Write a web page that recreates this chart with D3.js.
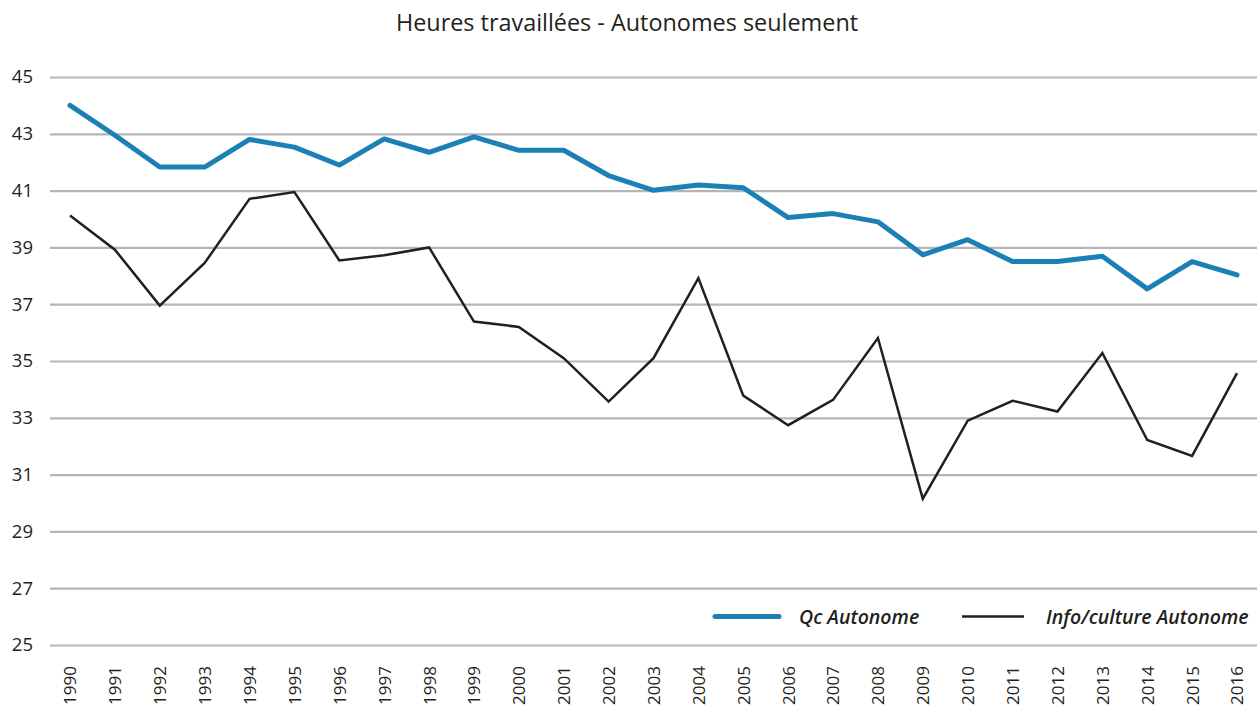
<!DOCTYPE html>
<html>
<head>
<meta charset="utf-8">
<script src="https://cdn.jsdelivr.net/npm/d3@7"></script>
<style>
  body { margin: 0; background: #fff; }
  text { font-family: "Open Sans", "Noto Sans", sans-serif; fill: #231f20; }
</style>
</head>
<body>
<div id="chart"></div>
<script>
const years = d3.range(1990, 2017);
const qcAutonome = [44.0, 42.95, 41.83, 41.83, 42.8, 42.53, 41.9, 42.82, 42.35, 42.89,
  42.42, 42.42, 41.53, 41.01, 41.2, 41.1, 40.05, 40.19, 39.9, 38.74,
  39.27, 38.5, 38.5, 38.69, 37.54, 38.5, 38.03];
const infoCulture = [40.12, 38.92, 36.95, 38.45, 40.71, 40.95, 38.54, 38.72, 39.0, 36.39,
  36.2, 35.1, 33.57, 35.1, 37.92, 33.78, 32.74, 33.63, 35.81, 30.15,
  32.9, 33.6, 33.22, 35.28, 32.22, 31.66, 34.57];
const yTicks = [25, 27, 29, 31, 33, 35, 37, 39, 41, 43, 45];
const seriesNames = ["Qc Autonome", "Info/culture Autonome"];
const chartTitle = "Heures travaillées - Autonomes seulement";

const rawWidth = 1257, rawHeight = 711;
const margin = { left: 50, right: 0, top: 77, bot: 66 };

const svg = d3.select('#chart').append('svg')
  .attr('width', rawWidth)
  .attr('height', rawHeight);

const x = d3.scaleLinear().domain([1990, 2016]).range([70, 1237]);
const y = d3.scaleLinear().domain([25, 45]).range([rawHeight - margin.bot, margin.top]);

// title
svg.append('text')
  .attr('x', 627).attr('y', 31)
  .attr('text-anchor', 'middle')
  .style('font-size', '23.4px')
  .text(chartTitle);

// gridlines + y labels
const yAxis = svg.append('g')
  .attr('transform', `translate(${margin.left},0)`)
  .call(d3.axisLeft(y).tickValues(yTicks).tickSize(-(rawWidth - margin.left)).tickPadding(17));
yAxis.select('.domain').remove();
yAxis.selectAll('.tick line').attr('stroke', '#b5b5b8').attr('stroke-width', 2.2);
yAxis.selectAll('.tick text')
  .style('font-size', '18.5px')
  .style('font-family', '"Open Sans", sans-serif')
  .attr('fill', '#231f20');

// x labels (rotated)
const xAxis = svg.append('g')
  .attr('transform', `translate(0,${y(25)})`)
  .call(d3.axisBottom(x).tickValues(years).tickFormat(d3.format('d')).tickSize(0));
xAxis.select('.domain').remove();
xAxis.selectAll('.tick text')
  .attr('transform', 'rotate(-90)')
  .attr('x', -60).attr('y', 0).attr('dy', '0.35em')
  .attr('text-anchor', 'start')
  .style('font-size', '17px')
  .attr('fill', '#231f20');

const line = d3.line().x((d, i) => x(years[i])).y(d => y(d));

svg.append('path')
  .datum(infoCulture)
  .attr('d', line)
  .attr('fill', 'none')
  .attr('stroke', '#231f20')
  .attr('stroke-width', 2.5)
  .attr('stroke-linejoin', 'miter');

svg.append('path')
  .datum(qcAutonome)
  .attr('d', line)
  .attr('fill', 'none')
  .attr('stroke', '#1b80b6')
  .attr('stroke-width', 5)
  .attr('stroke-linecap', 'round')
  .attr('stroke-linejoin', 'round');

// legend
const legend = svg.append('g');
const legendItems = [
  { name: seriesNames[0], x1: 715, x2: 779, tx: 799, color: '#1b80b6', w: 5 },
  { name: seriesNames[1], x1: 962, x2: 1024, tx: 1046, color: '#231f20', w: 2.5 }
];
legendItems.forEach(d => {
  legend.append('line')
    .attr('x1', d.x1).attr('x2', d.x2)
    .attr('y1', 616.5).attr('y2', 616.5)
    .attr('stroke', d.color).attr('stroke-width', d.w)
    .attr('stroke-linecap', d.w > 3 ? 'round' : 'butt');
  legend.append('text')
    .attr('x', d.tx).attr('y', 623.5)
    .style('font-size', '19.5px')
    .style('font-style', 'italic')
    .style('font-weight', 600)
    .text(d.name);
});
</script>
</body>
</html>
